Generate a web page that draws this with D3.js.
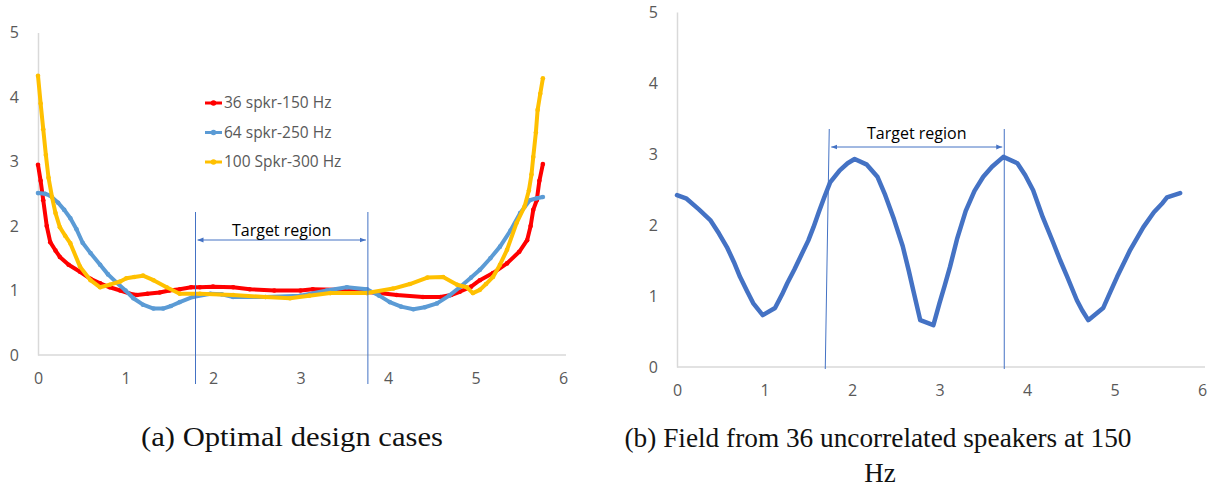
<!DOCTYPE html>
<html><head><meta charset="utf-8">
<script src="https://cdn.jsdelivr.net/npm/d3@7"></script>
<style>body{margin:0;background:#fff}svg{display:block}</style>
</head><body>
<svg id="c" width="1225" height="491"></svg>
<script>
// ---------- data ----------
const xTicks = [0,1,2,3,4,5,6];
const yTicks = [0,1,2,3,4,5];
const seriesNames = ["36 spkr-150 Hz","64 spkr-250 Hz","100 Spkr-300 Hz"];
const seriesColors = ["#FF0000","#5B9BD5","#FFC000"];
const red36 = [[0,2.95],[0.03,2.7],[0.06,2.4],[0.1,2.0],[0.14,1.75],[0.2,1.62],[0.25,1.52],[0.35,1.4],[0.48,1.29],[0.6,1.18],[0.71,1.11],[0.82,1.05],[0.94,1.0],[1.05,0.95],[1.13,0.93],[1.25,0.95],[1.39,0.97],[1.5,1.0],[1.62,1.02],[1.75,1.05],[1.85,1.05],[2.0,1.06],[2.23,1.05],[2.42,1.02],[2.7,1.0],[3.0,1.0],[3.14,1.02],[3.4,1.01],[3.71,0.98],[3.9,0.96],[4.1,0.93],[4.4,0.9],[4.6,0.9],[4.72,0.93],[4.82,0.98],[4.95,1.06],[5.05,1.16],[5.2,1.27],[5.36,1.42],[5.5,1.6],[5.59,1.78],[5.63,2.0],[5.66,2.25],[5.7,2.4],[5.73,2.7],[5.77,2.96]];
const blue64 = [[0,2.51],[0.08,2.5],[0.14,2.47],[0.23,2.36],[0.3,2.25],[0.37,2.12],[0.44,1.95],[0.51,1.74],[0.6,1.58],[0.71,1.4],[0.8,1.25],[0.9,1.12],[1.0,1.0],[1.09,0.88],[1.2,0.78],[1.32,0.72],[1.43,0.72],[1.52,0.76],[1.62,0.82],[1.77,0.9],[1.97,0.95],[2.1,0.94],[2.23,0.9],[2.6,0.9],[3.0,0.92],[3.3,1.0],[3.53,1.05],[3.76,1.02],[3.9,0.92],[4.02,0.82],[4.15,0.75],[4.29,0.71],[4.42,0.74],[4.56,0.8],[4.7,0.92],[4.82,1.05],[4.95,1.2],[5.05,1.32],[5.17,1.5],[5.28,1.68],[5.4,1.93],[5.51,2.2],[5.62,2.4],[5.7,2.43],[5.77,2.45]];
const yellow100 = [[0,4.33],[0.03,3.9],[0.06,3.5],[0.09,3.1],[0.12,2.75],[0.16,2.45],[0.2,2.2],[0.25,1.98],[0.31,1.85],[0.37,1.73],[0.48,1.37],[0.6,1.16],[0.71,1.05],[0.82,1.09],[0.94,1.14],[1.01,1.19],[1.1,1.21],[1.2,1.23],[1.32,1.16],[1.47,1.05],[1.62,0.95],[1.85,0.95],[2.23,0.93],[2.6,0.9],[2.88,0.88],[3.1,0.92],[3.34,0.96],[3.76,0.96],[4.06,1.03],[4.25,1.1],[4.45,1.2],[4.63,1.21],[4.79,1.09],[4.9,1.05],[4.97,0.96],[5.05,1.01],[5.12,1.1],[5.2,1.21],[5.28,1.4],[5.36,1.63],[5.47,2.05],[5.56,2.3],[5.61,2.55],[5.64,2.8],[5.66,3.07],[5.69,3.45],[5.71,3.8],[5.74,4.05],[5.77,4.29]];
const field36 = [[0,2.42],[0.11,2.37],[0.25,2.22],[0.38,2.07],[0.48,1.88],[0.57,1.69],[0.65,1.48],[0.72,1.27],[0.8,1.07],[0.87,0.9],[0.98,0.73],[1.12,0.83],[1.2,1.02],[1.26,1.18],[1.34,1.37],[1.41,1.55],[1.5,1.78],[1.56,1.97],[1.62,2.18],[1.68,2.38],[1.75,2.6],[1.86,2.77],[1.95,2.87],[2.03,2.93],[2.17,2.85],[2.29,2.68],[2.38,2.42],[2.48,2.08],[2.58,1.7],[2.65,1.35],[2.7,1.08],[2.78,0.66],[2.93,0.59],[3.0,0.9],[3.06,1.15],[3.12,1.41],[3.2,1.8],[3.3,2.2],[3.4,2.48],[3.5,2.68],[3.6,2.82],[3.73,2.96],[3.89,2.87],[3.98,2.7],[4.07,2.49],[4.18,2.11],[4.3,1.75],[4.38,1.5],[4.46,1.27],[4.57,0.94],[4.63,0.8],[4.7,0.66],[4.87,0.83],[4.95,1.05],[5.03,1.27],[5.18,1.65],[5.33,1.97],[5.45,2.18],[5.55,2.31],[5.6,2.39],[5.75,2.45]];
const targetA = [1.8, 3.77];   // x range of target region, chart (a)
const targetB = [1.74, 3.74];  // x range of target region, chart (b)
const captionA = "(a) Optimal design cases";
const captionB = ["(b) Field from 36 uncorrelated speakers at 150", "Hz"];

// ---------- drawing ----------
const svg = d3.select("#c");
const defs = svg.append("defs");
defs.append("marker").attr("id","arr").attr("viewBox","0 0 10 10").attr("refX",10).attr("refY",5)
  .attr("markerWidth",6).attr("markerHeight",6).attr("orient","auto-start-reverse")
  .append("path").attr("d","M0,1 L10,5 L0,9 z").attr("fill","#4472C4");

const tickFont = "'Open Sans', sans-serif";

function panel(xr, yr) {
  const x = d3.scaleLinear().domain([0,6]).range(xr);
  const y = d3.scaleLinear().domain([0,5]).range(yr);
  const gx = svg.append("g").attr("transform",`translate(0,${yr[0]})`)
    .call(d3.axisBottom(x).tickValues(xTicks).tickSize(0).tickPadding(18).tickFormat(d3.format("d")));
  const gy = svg.append("g").attr("transform",`translate(${xr[0]},0)`)
    .call(d3.axisLeft(y).tickValues(yTicks).tickSize(0).tickPadding(19).tickFormat(d3.format("d")));
  [gx, gy].forEach(g => {
    g.select(".domain").attr("stroke","#d9d9d9").attr("stroke-width",1.5);
    g.selectAll("text").attr("font-family",tickFont).attr("font-size","16px").attr("fill","#595959");
  });
  gx.select(".domain").attr("d",`M${xr[0]},0H${xr[1]+3}`);
  return {x, y};
}

function target(p, xs, yTop, yBot, yArrow, textY, tilt) {
  const g = svg.append("g");
  g.append("line").attr("x1",p.x(xs[0])).attr("x2",p.x(xs[0]) - tilt).attr("y1",yTop).attr("y2",yBot)
    .attr("stroke","#4472C4").attr("stroke-width",1);
  g.append("line").attr("x1",p.x(xs[1])).attr("x2",p.x(xs[1])).attr("y1",yTop).attr("y2",yBot)
    .attr("stroke","#4472C4").attr("stroke-width",1);
  g.append("line").attr("x1",p.x(xs[0])+2).attr("x2",p.x(xs[1])-2).attr("y1",yArrow).attr("y2",yArrow)
    .attr("stroke","#4472C4").attr("stroke-width",1)
    .attr("marker-start","url(#arr)").attr("marker-end","url(#arr)");
  g.append("text").attr("x",(p.x(xs[0])+p.x(xs[1]))/2).attr("y",textY).attr("text-anchor","middle")
    .attr("font-family",tickFont).attr("font-size","16px").attr("fill","#000").text("Target region");
}

// Panel (a)
const pa = panel([38,563],[355,32.5]);
const lineA = d3.line().x(d=>pa.x(d[0])).y(d=>pa.y(d[1])).curve(d3.curveLinear);
[red36, blue64, yellow100].forEach((s,i)=>{
  const g = svg.append("g");
  g.append("path").datum(s).attr("d",lineA).attr("fill","none").attr("stroke",seriesColors[i])
    .attr("stroke-width",4).attr("stroke-linejoin","round");
  g.selectAll("circle").data(s).join("circle").attr("cx",d=>pa.x(d[0])).attr("cy",d=>pa.y(d[1]))
    .attr("r",2.3).attr("fill",seriesColors[i]);
});
target(pa, targetA, 212, 384, 240, 236, 0);

// legend
const leg = svg.append("g");
seriesNames.forEach((n,i)=>{
  const yy = 103 + i*29.5;
  leg.append("line").attr("x1",205).attr("x2",222).attr("y1",yy).attr("y2",yy)
    .attr("stroke",seriesColors[i]).attr("stroke-width",3);
  leg.append("circle").attr("cx",213.5).attr("cy",yy).attr("r",2.8).attr("fill",seriesColors[i]);
  leg.append("text").attr("x",224).attr("y",yy).attr("dy","0.35em").attr("font-family",tickFont)
    .attr("font-size","15.5px").attr("fill","#595959").text(n);
});

// Panel (b)
const pb = panel([677,1202],[367,12]);
const lineB = d3.line().x(d=>pb.x(d[0])).y(d=>pb.y(d[1])).curve(d3.curveLinear);
svg.append("path").datum(field36).attr("d",lineB).attr("fill","none").attr("stroke","#4472C4")
  .attr("stroke-width",4.5).attr("stroke-linejoin","round").attr("stroke-linecap","round");
target(pb, targetB, 129, 369, 147, 139, 4);

// captions
svg.append("text").attr("x",292).attr("y",446).attr("text-anchor","middle")
  .attr("font-family","'Liberation Serif', serif").attr("font-size","27px").attr("fill","#111")
  .attr("textLength",302).attr("lengthAdjust","spacingAndGlyphs").text(captionA);
svg.append("text").attr("x",878).attr("y",447).attr("text-anchor","middle")
  .attr("font-family","'Liberation Serif', serif").attr("font-size","27px").attr("fill","#111")
  .attr("textLength",507).attr("lengthAdjust","spacingAndGlyphs").text(captionB[0]);
svg.append("text").attr("x",880).attr("y",482).attr("text-anchor","middle")
  .attr("font-family","'Liberation Serif', serif").attr("font-size","27px").attr("fill","#111")
  .text(captionB[1]);
</script>
</body></html>
